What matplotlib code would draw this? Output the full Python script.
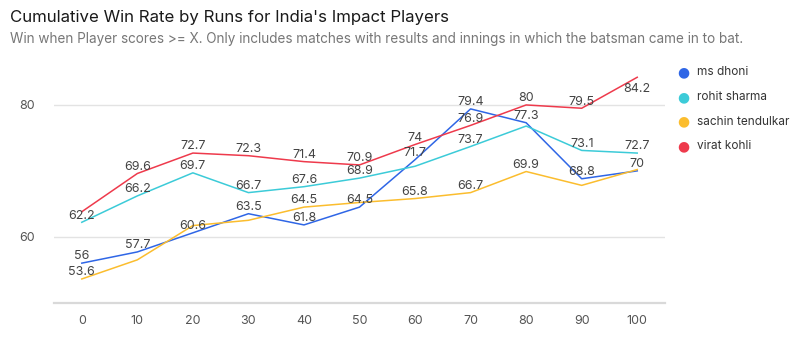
from matplotlib import pyplot as plt

plt.rcParams['font.family'] = ['Inter', 'DejaVu Sans']

runs = [0, 10, 20, 30, 40, 50, 60, 70, 80, 90, 100]

players = ["ms dhoni", "rohit sharma", "sachin tendulkar", "virat kohli"]
dhoni = [56, 57.7, 60.6, 63.5, 61.8, 64.5, 71.7, 79.4, 77.3, 68.8, 70]
rohit = [62.2, 66.2, 69.7, 66.7, 67.6, 68.9, 70.7, 73.7, 76.8, 73.1, 72.7]
sachin = [53.6, 56.5, 61.7, 62.5, 64.5, 65.2, 65.8, 66.7, 69.9, 67.8, 70.2]
kohli = [63.8, 69.6, 72.7, 72.3, 71.4, 70.9, 74, 76.9, 80, 79.5, 84.2]
series = [dhoni, rohit, sachin, kohli]
colors = ["#2f66e6", "#3ccbd8", "#fbbd2e", "#ee3a4c"]

# which points get a value label (the rest would collide)
shown = [
    [True] * 11,
    [True, True, True, True, True, True, False, True, False, True, True],
    [True, False, False, False, True, False, True, True, True, False, False],
    [False, True, True, True, True, True, True, True, True, True, True],
]

fig = plt.figure(figsize=(7.99, 3.37), dpi=100)
ax = fig.add_axes([0.0676, 0.1018, 0.7647, 0.7237])

for name, vals, col, mask in zip(players, series, colors, shown):
    ax.plot(runs, vals, color=col, lw=1.1, zorder=3)
    for x, v, m in zip(runs, vals, mask):
        if not m:
            continue
        if v > 83:
            ax.annotate(f"{v:g}", (x, v), xytext=(0, -4), textcoords='offset points',
                        ha='center', va='top', fontsize=9, color='#444444', zorder=4)
        else:
            ax.annotate(f"{v:g}", (x, v), xytext=(0, 0.5), textcoords='offset points',
                        ha='center', va='bottom', fontsize=9, color='#444444', zorder=4)

ax.set_xlim(-5, 105)
ax.set_ylim(50, 87)
ax.set_xticks(runs)
ax.set_yticks([60, 80])
ax.grid(axis='y', color='#e3e3e3', lw=1)
ax.set_axisbelow(True)
for s in ['top', 'right', 'left']:
    ax.spines[s].set_visible(False)
ax.spines['bottom'].set_color('#d9d9d9')
ax.spines['bottom'].set_linewidth(1.6)
ax.tick_params(length=0, labelsize=9, labelcolor='#555555')
ax.tick_params(axis='x', pad=9)
ax.tick_params(axis='y', pad=14)

# legend on the right
for i, (name, col) in enumerate(zip(players, colors)):
    y = 0.785 - i * 0.073
    fig.text(0.855, y, "\u25cf", color=col, fontsize=10, va='center', ha='center',
             family=['DejaVu Sans'])
    fig.text(0.872, y, name, color='#333333', fontsize=8.5, va='center')

fig.text(0.0125, 0.948, "Cumulative Win Rate by Runs for India's Impact Players",
         fontsize=12.1, color='#1a1a1a', va='center')
fig.text(0.0125, 0.883, "Win when Player scores >= X. Only includes matches with results "
         "and innings in which the batsman came in to bat.",
         fontsize=9.75, color='#777777', va='center')

fig.savefig("out.png", dpi=100)
